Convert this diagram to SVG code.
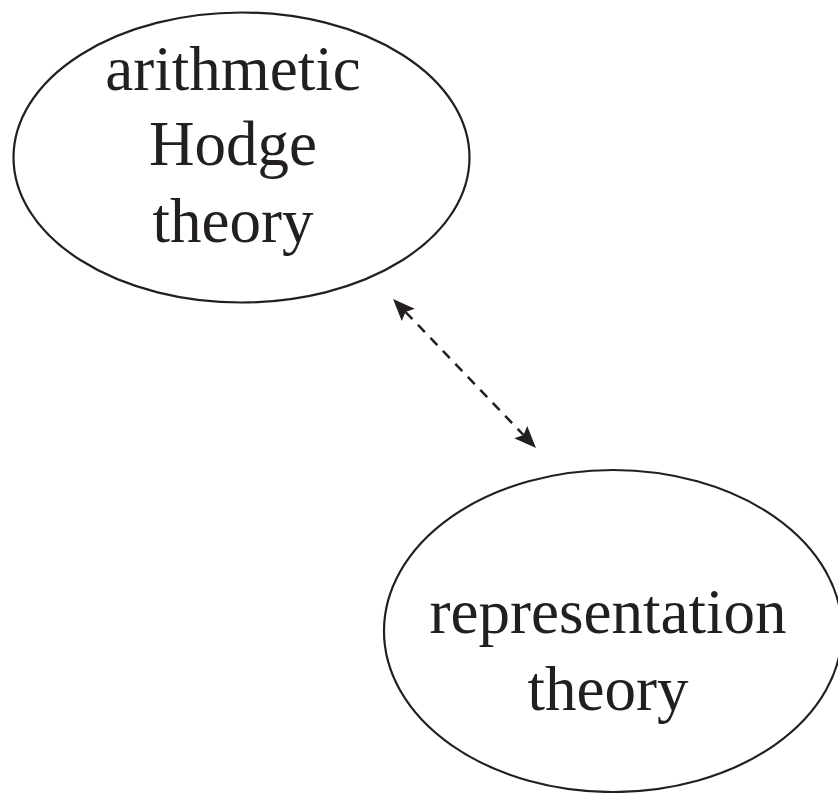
<svg xmlns="http://www.w3.org/2000/svg" width="838" height="793" viewBox="0 0 838 793">
<style>
.node ellipse{fill:none;stroke:#231f20;stroke-width:2.2}
.lbl{font-family:"Liberation Serif","Times New Roman",serif;font-size:63px;fill:#231f20;text-anchor:middle}
.conn{fill:none;stroke:#231f20;stroke-width:2.5;stroke-dasharray:10 8}
</style>
<defs>
<marker id="ah" viewBox="-5 -10 24 20" markerWidth="24" markerHeight="20" refX="0" refY="0" orient="auto-start-reverse" markerUnits="userSpaceOnUse">
<path d="M18,0 L-4,-9 L0,0 L-4,9 Z" fill="#231f20"/>
</marker>
</defs>
<rect width="838" height="793" fill="#fff"/>
<g id="node-arithmetic-hodge" class="node">
<ellipse cx="241.5" cy="157.5" rx="228" ry="145"/>
<text class="lbl" x="233" y="90">arithmetic</text>
<text class="lbl" x="233" y="165">Hodge</text>
<text class="lbl" x="233" y="242">theory</text>
</g>
<g id="node-representation" class="node">
<ellipse cx="613" cy="631" rx="229" ry="161"/>
<text class="lbl" x="608" y="633">representation</text>
<text class="lbl" x="608" y="710">theory</text>
</g>
<g id="connectors">
<path class="conn" d="M405.5,312 L523.5,435" marker-start="url(#ah)" marker-end="url(#ah)"/>
</g>
</svg>
